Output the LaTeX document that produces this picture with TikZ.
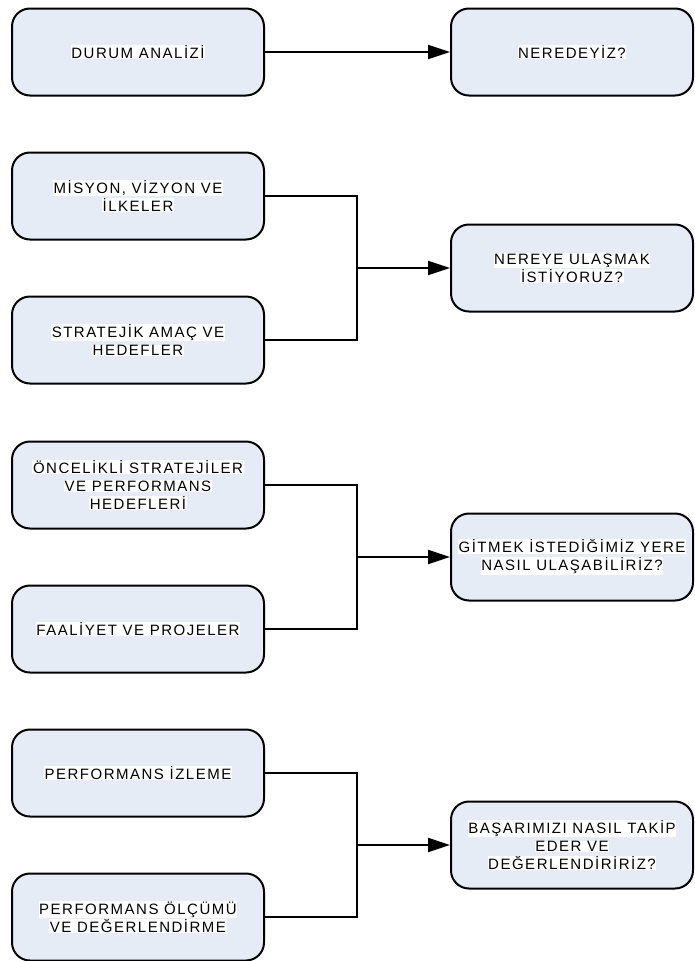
\documentclass[tikz,border=0pt]{standalone}
\usepackage{fontspec}
\setmainfont{Liberation Sans}[LetterSpace=10]
\usetikzlibrary{arrows.meta}
\definecolor{boxfill}{RGB}{230,236,246}
% each printed line sits on a white band
\newcommand\band[1]{{\fboxsep=0.6pt\colorbox{white}{#1}}}
\begin{document}
\begin{tikzpicture}[x=1pt,y=-1pt,
  stagebox/.style={draw, line width=2pt, fill=boxfill, rounded corners=18pt,
    minimum height=87pt, align=center, inner sep=0pt,
    font=\fontsize{15}{18}\selectfont},
  leftbox/.style={stagebox, minimum width=252pt},
  rightbox/.style={stagebox, minimum width=242pt},
  link/.style={line width=2.2pt, line join=miter},
  flow/.style={link, -{Triangle[length=22pt,width=14pt]}}]
\useasboundingbox (0,0) rectangle (694,961);

% row 1
\node[leftbox]  (durum) at (138,52)  {\band{DURUM ANALİZİ}};
\node[rightbox] (nere)  at (572,52)  {\band{NEREDEYİZ?}};
\draw[flow] (durum.east) -- (nere.west);

% row 2
\node[leftbox]  (misyon) at (138,196) {\band{MİSYON, VİZYON VE}\\\band{İLKELER}};
\node[leftbox]  (amac)   at (138,340) {\band{STRATEJİK AMAÇ VE}\\\band{HEDEFLER}};
\node[rightbox] (ulas)   at (572,268) {\band{NEREYE ULAŞMAK}\\\band{İSTİYORUZ?}};
\coordinate (j2) at (357,268);
\draw[link] (misyon.east) -| (j2) |- (amac.east);
\draw[flow] (j2) -- (ulas.west);

% row 3
\node[leftbox]  (strat)    at (138,485) {\band{ÖNCELİKLİ STRATEJİLER}\\\band{VE PERFORMANS}\\\band{HEDEFLERİ}};
\node[leftbox]  (faaliyet) at (138,629) {\band{FAALİYET VE PROJELER}};
\node[rightbox] (nasil)    at (572,557) {\band{GİTMEK İSTEDİĞİMİZ YERE}\\\band{NASIL ULAŞABİLİRİZ?}};
\coordinate (j3) at (357,557);
\draw[link] (strat.east) -| (j3) |- (faaliyet.east);
\draw[flow] (j3) -- (nasil.west);

% row 4
\node[leftbox]  (izleme) at (138,773) {\band{PERFORMANS İZLEME}};
\node[leftbox]  (olcum)  at (138,917) {\band{PERFORMANS ÖLÇÜMÜ}\\\band{VE DEĞERLENDİRME}};
\node[rightbox] (takip)  at (572,845) {\band{BAŞARIMIZI NASIL TAKİP}\\\band{EDER VE}\\\band{DEĞERLENDİRİRİZ?}};
\coordinate (j4) at (357,845);
\draw[link] (izleme.east) -| (j4) |- (olcum.east);
\draw[flow] (j4) -- (takip.west);
\end{tikzpicture}
\end{document}
